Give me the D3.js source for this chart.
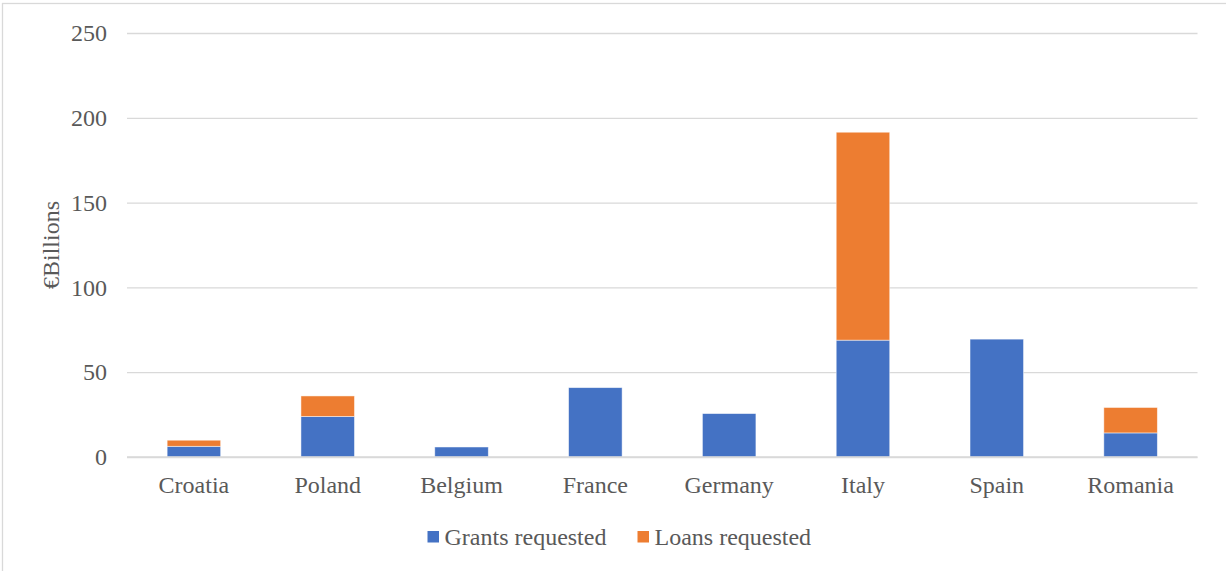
<!DOCTYPE html>
<html>
<head>
<meta charset="utf-8">
<script src="https://cdn.jsdelivr.net/npm/d3@7/dist/d3.min.js"></script>
<style>
  html, body { margin: 0; padding: 0; background: #fff; }
  svg { display: block; }
  text { font-family: "Liberation Serif", "Times New Roman", serif; fill: #595959; }
</style>
</head>
<body>
<svg id="chart" width="1226" height="571"></svg>
<script>
// Recovery and Resilience Facility requests by country (€ billions)
const countries = ["Croatia", "Poland", "Belgium", "France", "Germany", "Italy", "Spain", "Romania"];
const grants = [6.3, 23.9, 5.9, 40.9, 25.6, 68.9, 69.5, 14.2];
const loans  = [3.6, 12.1, 0, 0, 0, 122.6, 0, 15.0];
const seriesNames = ["Grants requested", "Loans requested"];
const seriesColors = ["#4472C4", "#ED7D31"];
const yTicks = [0, 50, 100, 150, 200, 250];

const svg = d3.select("#chart");
const W = 1226, H = 571;
const m = { left: 127, right: 1197.5, top: 33, bottom: 457 };
const fontSize = 24;
const serif = "Liberation Serif, Times New Roman, serif";

// chart frame
svg.append("rect")
  .attr("x", 2.5).attr("y", 3.5)
  .attr("width", W + 10).attr("height", H + 10)
  .attr("fill", "#fff").attr("stroke", "#d9d9d9").attr("stroke-width", 1.3);

const rows = countries.map((c, i) => ({ country: c, grants: grants[i], loans: loans[i] }));
const stacked = d3.stack().keys(["grants", "loans"])(rows);

const x = d3.scaleBand().domain(countries).range([m.left, m.right]).paddingInner(0.6).paddingOuter(0.3);
const y = d3.scaleLinear().domain([0, 250]).range([m.bottom, m.top]);

// horizontal gridlines with value labels
const yAxis = d3.axisLeft(y).tickValues(yTicks).tickSize(-(m.right - m.left)).tickPadding(20);
const gy = svg.append("g").attr("transform", `translate(${m.left},0)`).call(yAxis);
gy.select(".domain").remove();
gy.selectAll(".tick line").attr("stroke", "#d9d9d9").attr("stroke-width", 1.3);
gy.selectAll(".tick text")
  .attr("font-size", fontSize)
  .attr("fill", "#595959")
  .attr("font-family", serif);

// stacked bars
svg.append("g").selectAll("g")
  .data(stacked).join("g")
  .attr("fill", (d, i) => seriesColors[i])
  .selectAll("rect")
  .data(d => d).join("rect")
  .attr("x", d => x(d.data.country))
  .attr("width", x.bandwidth())
  .attr("y", d => y(d[1]))
  .attr("height", d => y(d[0]) - y(d[1]))
  .attr("stroke", "#fff").attr("stroke-opacity", 0.6).attr("stroke-width", 0.8);

// category axis
const gx = svg.append("g").attr("transform", `translate(0,${m.bottom})`)
  .call(d3.axisBottom(x).tickSize(0).tickPadding(19));
gx.select(".domain").attr("stroke", "#d9d9d9").attr("stroke-width", 1.3)
  .attr("d", `M${m.left},0H${m.right}`);
gx.selectAll(".tick text")
  .attr("font-size", fontSize)
  .attr("fill", "#595959")
  .attr("font-family", serif);

// y axis title
svg.append("text")
  .attr("transform", `translate(59,245) rotate(-90)`)
  .attr("text-anchor", "middle")
  .attr("font-size", fontSize)
  .attr("font-family", serif)
  .text("€Billions");

// legend
const legendItems = [
  { name: seriesNames[0], color: seriesColors[0], x: 427.5 },
  { name: seriesNames[1], color: seriesColors[1], x: 637.5 }
];
const lg = svg.append("g").selectAll("g").data(legendItems).join("g")
  .attr("transform", d => `translate(${d.x},531)`);
lg.append("rect").attr("width", 11.5).attr("height", 11.5).attr("fill", d => d.color);
lg.append("text").attr("x", 17).attr("y", 13.5).attr("font-size", fontSize).attr("font-family", serif).text(d => d.name);
</script>
</body>
</html>
